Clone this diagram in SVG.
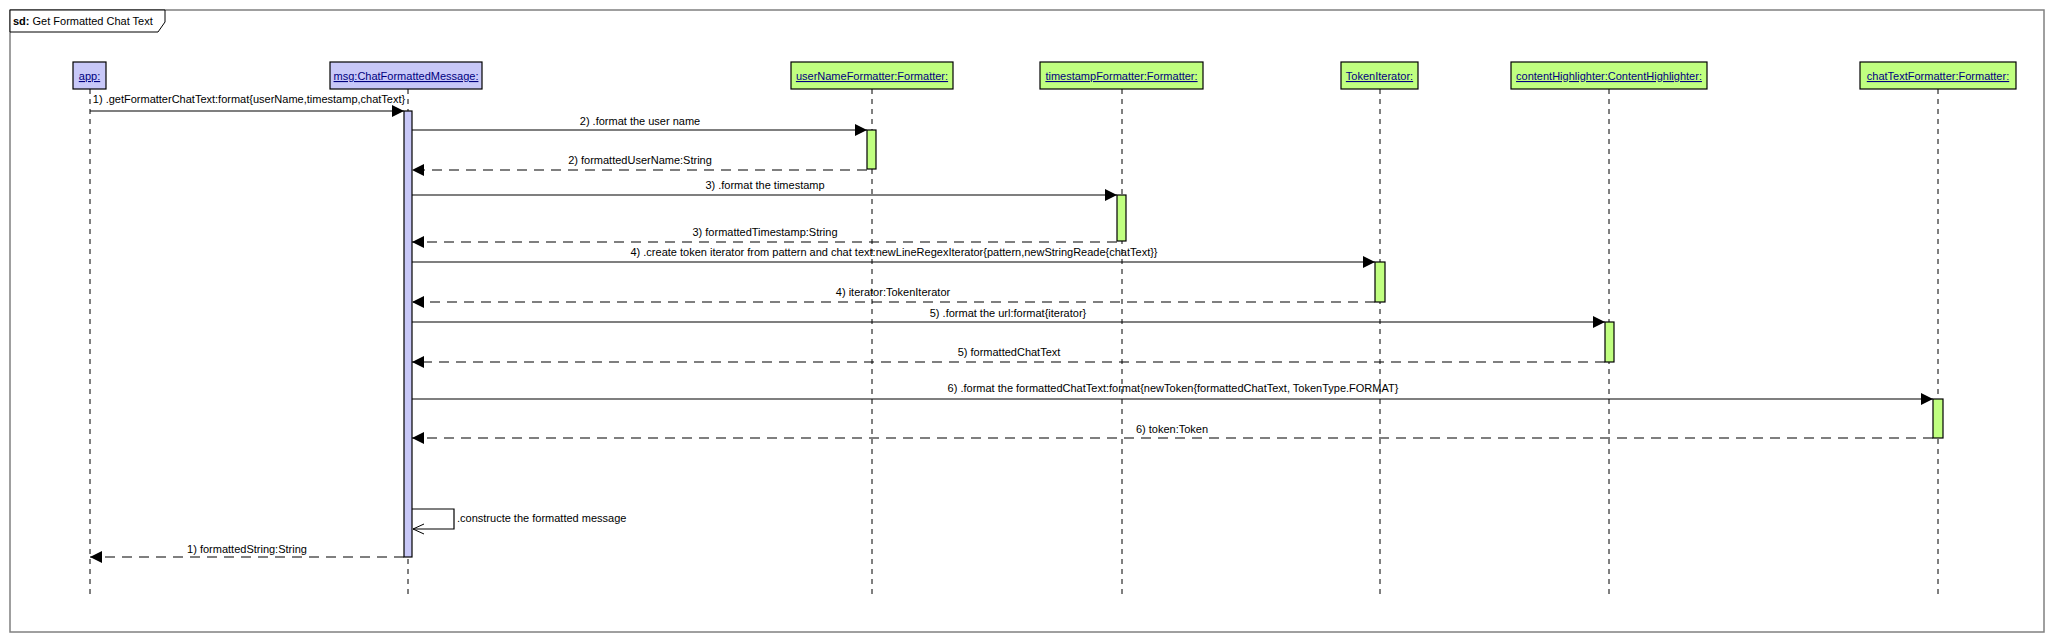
<svg xmlns="http://www.w3.org/2000/svg" width="2056" height="642" viewBox="0 0 2056 642">
<style>
text{font-family:"Liberation Sans",Arial,sans-serif;font-size:11px;fill:#000}
.lbl{text-anchor:middle}
.nm{text-anchor:middle;fill:#000080;text-decoration:underline}
.blue{fill:#C8C8F8;stroke:#000;stroke-width:1.2}
.green{fill:#C0FF80;stroke:#000;stroke-width:1.2}
.life{stroke:#000;stroke-width:1;stroke-dasharray:5,5;fill:none}
.call{stroke:#000;stroke-width:1.2;fill:none;marker-end:url(#fill)}
.ret{stroke:#000;stroke-width:1.2;fill:none;stroke-dasharray:10,7;marker-end:url(#fill)}
.self{stroke:#000;stroke-width:1.2;fill:none;marker-end:url(#open)}
</style>
<defs>
<marker id="fill" markerUnits="userSpaceOnUse" viewBox="0 0 12 12" markerWidth="12" markerHeight="12" refX="12" refY="6" orient="auto"><path d="M0,0 L12,6 L0,12 Z" fill="#000"/></marker>
<marker id="open" markerUnits="userSpaceOnUse" viewBox="0 0 12 12" markerWidth="12" markerHeight="12" refX="12" refY="6" orient="auto"><path d="M1,1 L12,6 L1,11" fill="none" stroke="#000" stroke-width="1"/></marker>
</defs>
<rect x="0" y="0" width="2056" height="642" fill="#fff"/>
<g id="frame">
<rect x="10" y="10" width="2034" height="622" fill="none" stroke="#808080" stroke-width="1.5"/>
<path d="M10,10 H165 V22 L158,32 H10 Z" fill="#fff" stroke="#000" stroke-width="1"/>
<text x="13" y="25"><tspan font-weight="bold">sd:</tspan> Get Formatted Chat Text</text>
</g>
<g id="lifelines">
<line class="life" x1="90" y1="89" x2="90" y2="597"/>
<line class="life" x1="408" y1="89" x2="408" y2="597"/>
<line class="life" x1="872" y1="89" x2="872" y2="597"/>
<line class="life" x1="1122" y1="89" x2="1122" y2="597"/>
<line class="life" x1="1380" y1="89" x2="1380" y2="597"/>
<line class="life" x1="1609" y1="89" x2="1609" y2="597"/>
<line class="life" x1="1938" y1="89" x2="1938" y2="597"/>
</g>
<g id="app">
<rect class="blue" x="73" y="62" width="33" height="27"/>
<text class="nm" x="89.5" y="80">app:</text>
</g>
<g id="msg">
<rect class="blue" x="330" y="62" width="152" height="27"/>
<text class="nm" x="406" y="80">msg:ChatFormattedMessage:</text>
<rect class="blue" x="404" y="111" width="8" height="446"/>
</g>
<g id="userNameFormatter">
<rect class="green" x="791" y="62" width="162" height="27"/>
<text class="nm" x="872" y="80">userNameFormatter:Formatter:</text>
<rect class="green" x="867" y="130" width="9" height="39"/>
</g>
<g id="timestampFormatter">
<rect class="green" x="1040" y="62" width="163" height="27"/>
<text class="nm" x="1121.5" y="80">timestampFormatter:Formatter:</text>
<rect class="green" x="1117" y="195" width="9" height="46"/>
</g>
<g id="tokenIterator">
<rect class="green" x="1341" y="62" width="77" height="27"/>
<text class="nm" x="1379.5" y="80">TokenIterator:</text>
<rect class="green" x="1375" y="262" width="10" height="40"/>
</g>
<g id="contentHighlighter">
<rect class="green" x="1511" y="62" width="196" height="27"/>
<text class="nm" x="1609" y="80">contentHighlighter:ContentHighlighter:</text>
<rect class="green" x="1605" y="322" width="9" height="40"/>
</g>
<g id="chatTextFormatter">
<rect class="green" x="1860" y="62" width="156" height="27"/>
<text class="nm" x="1938" y="80">chatTextFormatter:Formatter:</text>
<rect class="green" x="1933" y="399" width="10" height="39"/>
</g>
<g id="connectors">
<line class="call" x1="90" y1="111" x2="404" y2="111"/>
<text class="lbl" x="249" y="103">1) .getFormatterChatText:format{userName,timestamp,chatText}</text>
<line class="call" x1="412" y1="130" x2="867" y2="130"/>
<text class="lbl" x="640" y="125">2) .format the user name</text>
<line class="ret" x1="867" y1="170" x2="412" y2="170"/>
<text class="lbl" x="640" y="164">2) formattedUserName:String</text>
<line class="call" x1="412" y1="195" x2="1117" y2="195"/>
<text class="lbl" x="765" y="189">3) .format the timestamp</text>
<line class="ret" x1="1117" y1="242" x2="412" y2="242"/>
<text class="lbl" x="765" y="236">3) formattedTimestamp:String</text>
<line class="call" x1="412" y1="262" x2="1375" y2="262"/>
<text class="lbl" x="894" y="256">4) .create token iterator from pattern and chat text:newLineRegexIterator{pattern,newStringReade{chatText}}</text>
<line class="ret" x1="1375" y1="302" x2="412" y2="302"/>
<text class="lbl" x="893" y="296">4) iterator:TokenIterator</text>
<line class="call" x1="412" y1="322" x2="1605" y2="322"/>
<text class="lbl" x="1008" y="317">5) .format the url:format{iterator}</text>
<line class="ret" x1="1605" y1="362" x2="412" y2="362"/>
<text class="lbl" x="1009" y="356">5) formattedChatText</text>
<line class="call" x1="412" y1="399" x2="1933" y2="399"/>
<text class="lbl" x="1173" y="392">6) .format the formattedChatText:format{newToken{formattedChatText, TokenType.FORMAT}</text>
<line class="ret" x1="1933" y1="438" x2="412" y2="438"/>
<text class="lbl" x="1172" y="433">6) token:Token</text>
<path class="self" d="M412,509 H454 V529 H413"/>
<text x="457" y="522">.constructe the formatted message</text>
<line class="ret" x1="404" y1="557" x2="90" y2="557"/>
<text class="lbl" x="247" y="553">1) formattedString:String</text>
</g>
</svg>
